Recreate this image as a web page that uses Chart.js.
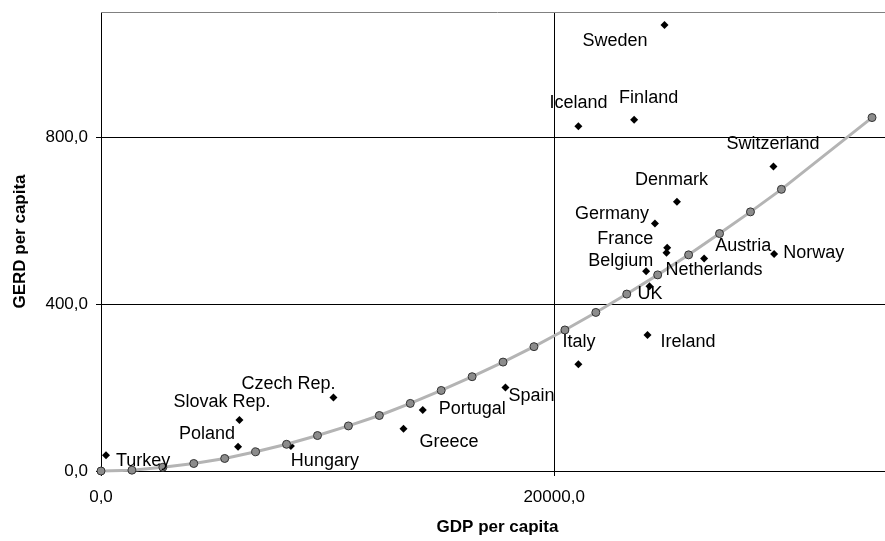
<!DOCTYPE html>
<html>
<head>
<meta charset="utf-8">
<script src="https://cdn.jsdelivr.net/npm/chart.js@4.4.1/dist/chart.umd.min.js"></script>
<style>
  html, body { margin: 0; padding: 0; background: #fff; overflow: hidden; }
  #wrap { width: 900px; height: 541px; }
</style>
</head>
<body>
<div id="wrap"><canvas id="gerdChart" width="900" height="541"></canvas></div>
<script>
// country observations
const countries = ['Sweden', 'Iceland', 'Finland', 'Switzerland', 'Denmark', 'Germany', 'France', 'Netherlands',
    'Belgium', 'UK', 'Austria', 'Norway', 'Ireland', 'Italy', 'Spain', 'Portugal', 'Greece',
    'Czech Rep.', 'Slovak Rep.', 'Poland', 'Hungary', 'Turkey'];
const gdpPerCapita = [24870, 21070, 23530, 29680, 25420, 24450, 24990, 24960,
    24060, 24210, 26620, 29710, 24120, 21070, 17850, 14200, 13350,
    10260, 6110, 6050, 8380, 220];
const gerdPerCapita = [1069, 826, 842, 730, 645, 593, 535, 523,
    479, 443, 509, 520, 326, 256, 200, 146, 101,
    176, 122, 58, 60, 38];

// trend curve points
const trendGdp = [0, 1365, 2730, 4095, 5460, 6825, 8190, 9555, 10920, 12285, 13650, 15015,
    16380, 17745, 19110, 20475, 21840, 23205, 24570, 25935, 27300, 28665, 30030, 34030];
const trendGerd = [0, 2, 9, 18, 30, 46, 64, 85, 108, 133, 162, 193,
    226, 261, 298, 338, 380, 424, 470, 518, 569, 621, 675, 847];

const xTicks = [0, 20000];
const yTicks = [0, 400, 800];

// where each country name sits relative to its marker (px)
const labelOffsets = [[-82, 16], [-29, -23], [-15, -22], [-47, -22], [-42, -22], [-80, -10], [-70, -9], [-1, 17],
    [-58, -10], [-12, 8], [11, -13], [9, -1], [13, 7], [-16, -22], [3, 8], [16, -1], [16, 13],
    [-92, -14], [-66, -18], [-59, -13], [0, 15], [10, 6]];

const fmt = v => Number(v).toFixed(1).replace('.', ',');

Chart.defaults.font.family = "'Liberation Sans', Arial, sans-serif";
Chart.defaults.color = '#000';

const countryLabels = {
    id: 'countryLabels',
    afterDatasetsDraw(chart) {
        const ctx = chart.ctx;
        const meta = chart.getDatasetMeta(0);
        ctx.save();
        ctx.font = "18px 'Liberation Sans', Arial, sans-serif";
        ctx.fillStyle = '#000';
        ctx.textAlign = 'left';
        ctx.textBaseline = 'middle';
        meta.data.forEach((pt, i) => {
            const off = labelOffsets[i];
            ctx.fillText(countries[i], pt.x + off[0], pt.y + off[1]);
        });
        ctx.restore();
    }
};

const plotFrame = {
    id: 'plotFrame',
    beforeDatasetsDraw(chart) {
        const { ctx, chartArea } = chart;
        ctx.save();
        ctx.strokeStyle = '#808080';
        ctx.lineWidth = 1;
        ctx.beginPath();
        ctx.moveTo(chartArea.left, chartArea.top + 0.5);
        ctx.lineTo(chartArea.right, chartArea.top + 0.5);
        ctx.lineTo(chartArea.right - 0.5, chartArea.bottom);
        ctx.stroke();
        ctx.restore();
    }
};

new Chart(document.getElementById('gerdChart'), {
    type: 'scatter',
    data: {
        datasets: [{
            label: 'Countries',
            data: gdpPerCapita.map((x, i) => ({ x: x, y: gerdPerCapita[i] })),
            pointStyle: 'rectRot',
            pointRadius: 4,
            pointBackgroundColor: '#000',
            pointBorderColor: '#000',
            pointBorderWidth: 0,
            clip: false,
            order: 2
        }, {
            label: 'Trend',
            type: 'line',
            data: trendGdp.map((x, i) => ({ x: x, y: trendGerd[i] })),
            borderColor: '#b4b4b4',
            borderWidth: 3,
            pointRadius: 4,
            pointBackgroundColor: '#8c8c8c',
            pointBorderColor: '#333',
            pointBorderWidth: 1,
            tension: 0,
            fill: false,
            clip: false,
            order: 1
        }]
    },
    options: {
        responsive: false,
        animation: false,
        layout: { padding: { top: 12, right: 6, left: 0, bottom: 0 } },
        plugins: {
            legend: { display: false },
            tooltip: { enabled: false }
        },
        scales: {
            x: {
                type: 'linear',
                min: 0,
                max: 35000,
                afterBuildTicks: s => { s.ticks = xTicks.map(v => ({ value: v })); },
                afterFit: s => { s.height = 70; s.paddingRight = 0; },
                ticks: { font: { size: 17 }, padding: 11, maxRotation: 0, callback: v => fmt(v) },
                grid: { color: '#000', lineWidth: 1, tickLength: 5, tickColor: '#000' },
                border: { display: true, color: '#000', width: 1 },
                title: {
                    display: true, text: 'GDP per capita',
                    font: { size: 17, weight: 'bold' },
                    padding: { top: 0, bottom: 3 }
                }
            },
            y: {
                type: 'linear',
                min: 0,
                max: 1100,
                afterBuildTicks: s => { s.ticks = yTicks.map(v => ({ value: v })); },
                afterFit: s => { s.width = 101; s.paddingTop = 0; s.paddingBottom = 0; },
                ticks: { font: { size: 17 }, padding: 8, callback: v => fmt(v) },
                grid: { color: '#000', lineWidth: 1, tickLength: 5, tickColor: '#000' },
                border: { display: true, color: '#000', width: 1 },
                title: {
                    display: true, text: 'GERD per capita',
                    font: { size: 17, weight: 'bold' },
                    padding: { top: 10, bottom: 0 }
                }
            }
        }
    },
    plugins: [countryLabels, plotFrame]
});
</script>
</body>
</html>
